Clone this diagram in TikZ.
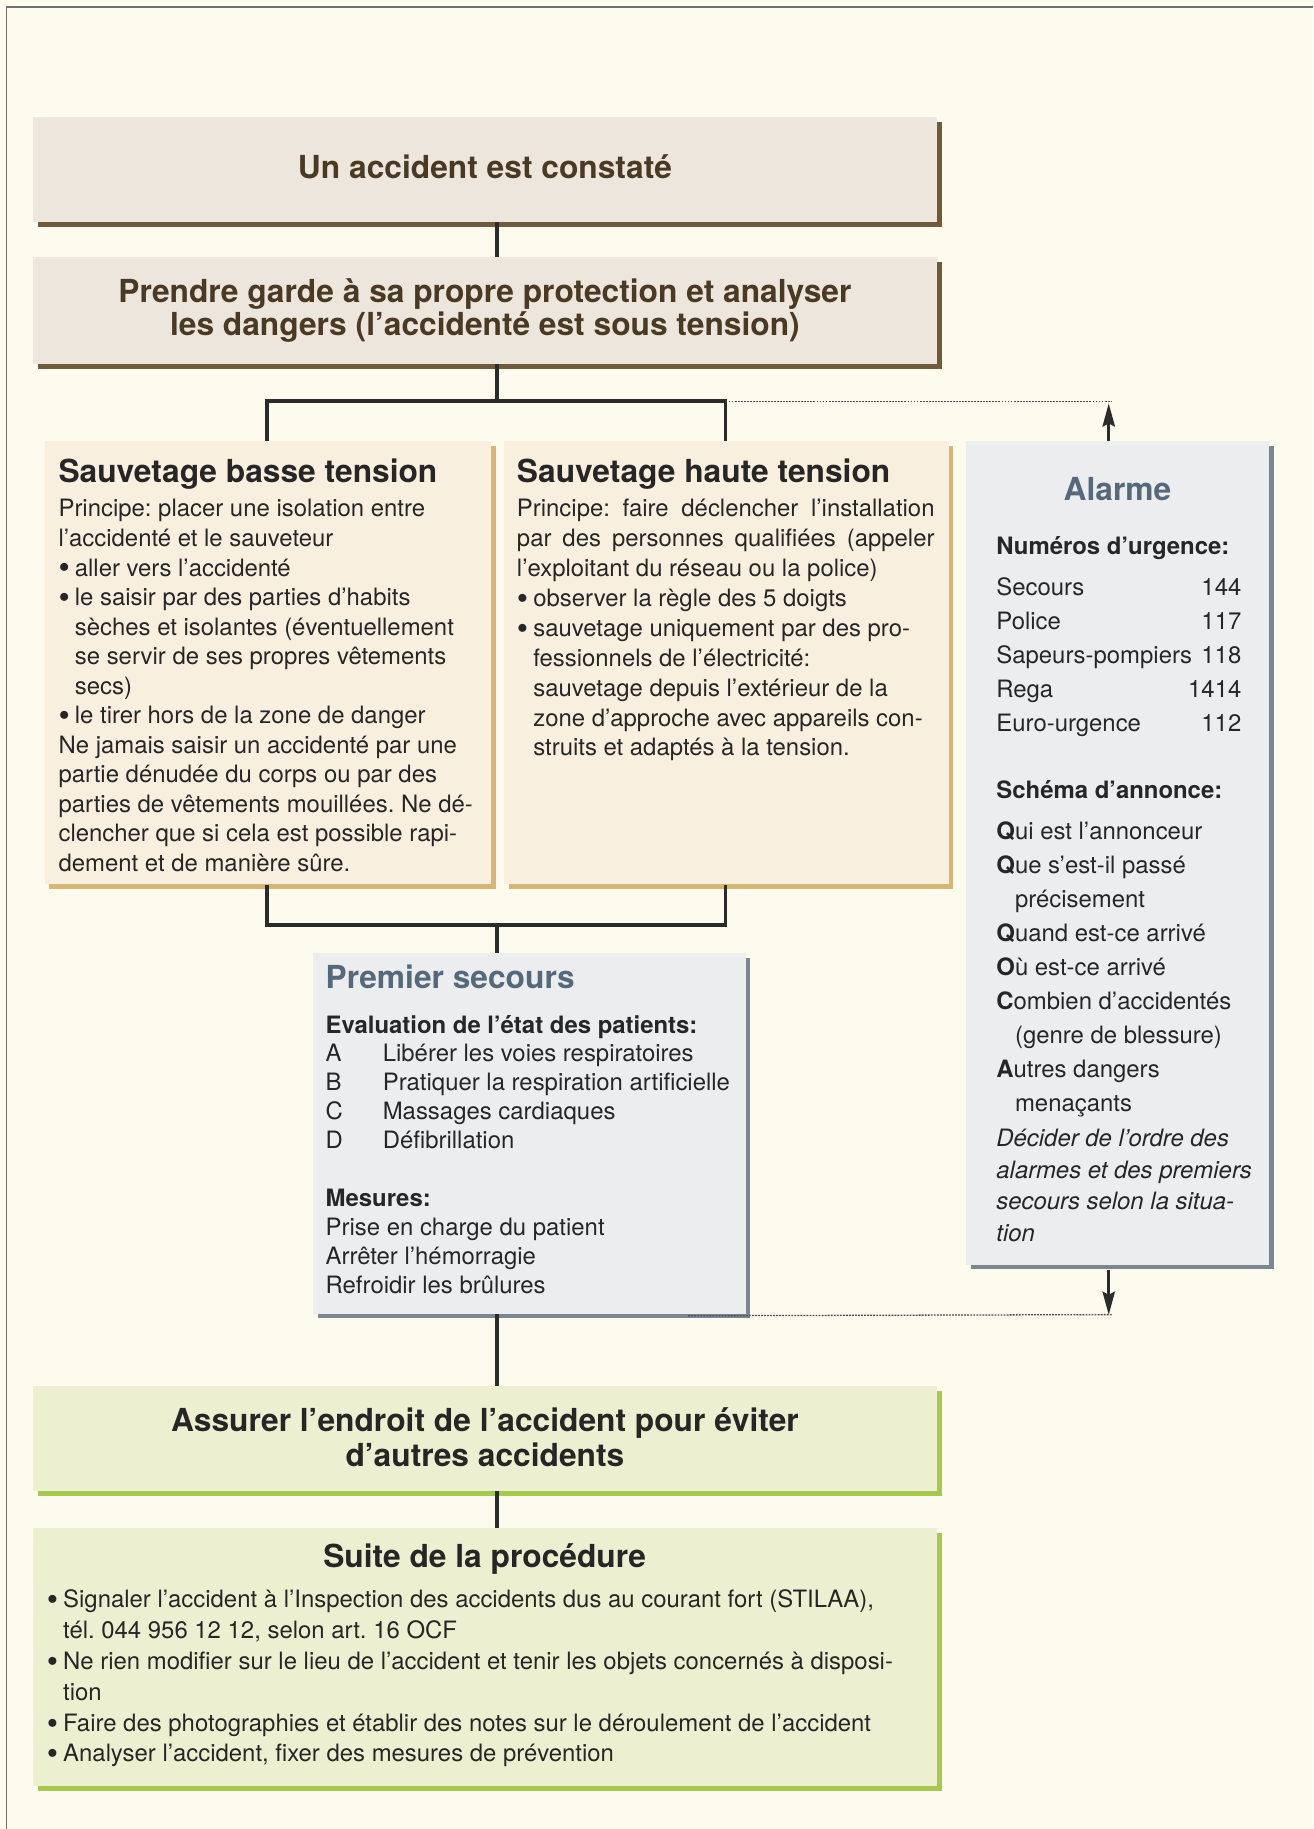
\documentclass[tikz,border=0pt]{standalone}
\usepackage{fontspec}
\setmainfont{TeX Gyre Heros}
\usetikzlibrary{arrows.meta,shadows}
\frenchspacing
\definecolor{bgc}{HTML}{FCFBEE}
\definecolor{framec}{HTML}{707070}
\definecolor{topfill}{HTML}{EDE6DC}
\definecolor{topsh}{HTML}{6F5B3B}
\definecolor{toptext}{HTML}{4A3A24}
\definecolor{orfill}{HTML}{F8EFDF}
\definecolor{orsh}{HTML}{D8B573}
\definecolor{grfill}{HTML}{ECEDEF}
\definecolor{grsh}{HTML}{7C8690}
\definecolor{slate}{HTML}{56697A}
\definecolor{gnfill}{HTML}{EDF0D0}
\definecolor{gnsh}{HTML}{A7C84C}
\definecolor{ink}{HTML}{262626}
\definecolor{lnc}{HTML}{2B2B2B}
\newcommand\fbody{\fontsize{20.5}{25.33}\selectfont}
\newcommand\fbodyh{\fontsize{20.5}{25.6}\selectfont}
\newcommand\fbodya{\fontsize{20.5}{29.2}\selectfont}
\newcommand\fbodyi{\fontsize{20.5}{27}\selectfont\itshape}
\newcommand\fbodyp{\fontsize{20.5}{24.8}\selectfont}
\newcommand\fbodys{\fontsize{20.5}{26.4}\selectfont}
\newcommand\ftitle{\fontsize{27.2}{29}\selectfont\bfseries}
\newcommand\bul{\makebox[14pt][l]{\raisebox{-0.12em}{\scalebox{1.35}{\textbullet}}}}
\newcommand\ind{\hspace*{14pt}}
\newcommand\inda{\hspace*{16pt}}
\begin{document}
\begin{tikzpicture}[x=1pt,y=-1pt,
  box/.style={draw=none, inner sep=0pt, anchor=north west, align=center},
  topbox/.style={box, fill=topfill, general shadow={fill=topsh, shadow xshift=4pt, shadow yshift=-4pt}, text=toptext, font=\ftitle},
  orbox/.style={box, fill=orfill, general shadow={fill=orsh, shadow xshift=4pt, shadow yshift=-4pt}},
  grbox/.style={box, fill=grfill, general shadow={fill=grsh, shadow xshift=4pt, shadow yshift=-4pt}},
  gnbox/.style={box, fill=gnfill, general shadow={fill=gnsh, shadow xshift=4pt, shadow yshift=-4pt}},
  txt/.style={inner sep=0pt, anchor=north west, align=left, text=ink},
  conn/.style={draw=lnc, line width=2.9pt},
  brack/.style={draw=lnc, line width=3.2pt, line join=miter},
  dots/.style={draw=lnc!85, line width=1.1pt, dash pattern=on 1.6pt off 1pt},
  shaft/.style={draw=lnc, line width=3pt},
  headtip/.style={fill=lnc, draw=none}
]
\fill[bgc] (0,0) rectangle (1126,1568);
\useasboundingbox (0,0) rectangle (1126,1568);
\draw[framec, line width=1.3pt] (1126,6) -- (5.5,6) -- (5.5,1568);

% boxes
\node[topbox, minimum width=775pt, minimum height=90pt] (b1) at (28,100) {\raisebox{5pt}{Un accident est constaté}};
\node[topbox, minimum width=775pt, minimum height=92pt] (b2) at (28,220) {Prendre garde à sa propre protection et analyser\\les dangers (l’accidenté est sous tension)};
\node[orbox, minimum width=383pt, minimum height=380pt] (basse) at (38,378) {};
\node[orbox, minimum width=381pt, minimum height=380pt] (haute) at (432,378) {};
\node[grbox, minimum width=260pt, minimum height=706pt] (alarme) at (828,378) {};
\node[grbox, minimum width=371pt, minimum height=309pt] (premier) at (268,817) {};
\node[gnbox, minimum width=775pt, minimum height=90pt, font=\ftitle, text=ink] (assurer) at (28,1188) {\raisebox{3pt}{\shortstack{Assurer l’endroit de l’accident pour éviter\\[1pt]d’autres accidents}}};
\node[gnbox, minimum width=775pt, minimum height=221pt] (suite) at (28,1310) {};

% connectors
\coordinate (spine) at (426,0);
\coordinate (brL) at (229,344);
\coordinate (brR) at (622,344);
\coordinate (bbL) at (229,793);
\coordinate (bbR) at (622,793);
\coordinate (alTop) at (950.5,346);
\coordinate (alBot) at (950.5,1127);
\coordinate (psDot) at (590,1128);
\coordinate (dotEnd) at (953,344);
\draw[conn] (spine |- b1.south) -- (spine |- b2.north);
\draw[conn] (spine |- b2.south) -- (spine |- brL);
\draw[brack] (brL |- basse.north) -- (brL) -- (brR) -- (brR |- haute.north);
\draw[brack] (bbL |- basse.south) -- (bbL) -- (bbR) -- (bbR |- haute.south);
\draw[conn] (spine |- bbL) -- (spine |- premier.north);
\draw[conn] (spine |- premier.south) -- (spine |- assurer.north);
\draw[conn] (spine |- assurer.south) -- (spine |- suite.north);
\draw[dots] (brR) -- (dotEnd);
\draw[dots] (psDot) -- (dotEnd |- alBot);
% arrow up to the dotted line
\draw[shaft] (alTop |- alarme.north) -- ([yshift=-14pt]alTop);
\fill[headtip] (alTop) -- ++(-5.5,20) -- ++(5.5,-3) -- ++(5.5,3) -- cycle;
% arrow down to the dotted line
\draw[shaft] ([yshift=-4pt]alTop |- alarme.south) -- ([yshift=14pt]alBot);
\fill[headtip] (alBot) -- ++(-5.5,-20) -- ++(5.5,3) -- ++(5.5,-3) -- cycle;

% Sauvetage basse tension
\node[txt, font=\ftitle] (basseT) at (50,393) {Sauvetage basse tension};
\node[txt, font=\fbody] (basseB) at (50,428) {Principe: placer une isolation entre\\
l’accidenté et le sauveteur\\
\bul aller vers l’accidenté\\
\bul le saisir par des parties d’habits\\
\ind sèches et isolantes (éventuellement\\
\ind se servir de ses propres vêtements\\
\ind secs)\\
\bul le tirer hors de la zone de danger\\
Ne jamais saisir un accidenté par une\\
partie dénudée du corps ou par des\\
parties de vêtements mouillées. Ne dé-\\
clencher que si cela est possible rapi-\\
dement et de manière sûre.};

% Sauvetage haute tension
\node[txt, font=\ftitle] (hauteT) at (443,393) {Sauvetage haute tension};
\node[txt, font=\fbodyh] (hauteB) at (443,428) {\makebox[358pt][s]{Principe: faire déclencher l’installation}\\
\makebox[358pt][s]{par des personnes qualifiées (appeler}\\
l’exploitant du réseau ou la police)\\
\bul observer la règle des 5 doigts\\
\bul sauvetage uniquement par des pro-\\
\ind fessionnels de l’électricité:\\
\ind sauvetage depuis l’extérieur de la\\
\ind zone d’approche avec appareils con-\\
\ind struits et adaptés à la tension.};

% Alarme
\node[inner sep=0pt, anchor=base, font=\ftitle, text=slate] (alT) at (958,429) {Alarme};
\node[txt, font=\fbody\bfseries] (alN) at (854,460) {Numéros d’urgence:};
\node[txt, font=\fbodya] (alList) at (854,495) {\hbox to 210pt{Secours\hfill 144}\\
\hbox to 210pt{Police\hfill 117}\\
\hbox to 210pt{Sapeurs-pompiers\hfill 118}\\
\hbox to 210pt{Rega\hfill 1414}\\
\hbox to 210pt{Euro-urgence\hfill 112}};
\node[txt, font=\fbody\bfseries] (alS) at (854,669) {Schéma d’annonce:};
\node[txt, font=\fbodya] (alSch) at (854,704) {\textbf{Q}ui est l’annonceur\\
\textbf{Q}ue s’est-il passé\\
\inda précisement\\
\textbf{Q}uand est-ce arrivé\\
\textbf{O}ù est-ce arrivé\\
\textbf{C}ombien d’accidentés\\
\inda (genre de blessure)\\
\textbf{A}utres dangers\\
\inda menaçants};
\node[txt, font=\fbodyi] (alIt) at (854,968) {Décider de l’ordre des\\
alarmes et des premiers\\
secours selon la situa-\\
tion};

% Premier secours
\node[txt, font=\ftitle, text=slate] (psT) at (279,827) {Premier secours};
\node[txt, font=\fbodyp] (psB) at (279,870) {\textbf{Evaluation de l’état des patients:}\\
\makebox[49pt][l]{A}Libérer les voies respiratoires\\
\makebox[49pt][l]{B}Pratiquer la respiration artificielle\\
\makebox[49pt][l]{C}Massages cardiaques\\
\makebox[49pt][l]{D}Défibrillation\\
\mbox{}\\
\textbf{Mesures:}\\
Prise en charge du patient\\
Arrêter l’hémorragie\\
Refroidir les brûlures};

% Suite de la procedure
\node[inner sep=0pt, anchor=base, font=\ftitle, text=ink] (suT) at (415.5,1344) {Suite de la procédure};
\node[txt, font=\fbodys] (suB) at (40,1363) {\bul Signaler l’accident à l’Inspection des accidents dus au courant fort (STILAA),\\
\ind tél. 044 956 12 12, selon art. 16 OCF\\
\bul Ne rien modifier sur le lieu de l’accident et tenir les objets concernés à disposi-\\
\ind tion\\
\bul Faire des photographies et établir des notes sur le déroulement de l’accident\\
\bul Analyser l’accident, fixer des mesures de prévention};
\end{tikzpicture}
\end{document}
